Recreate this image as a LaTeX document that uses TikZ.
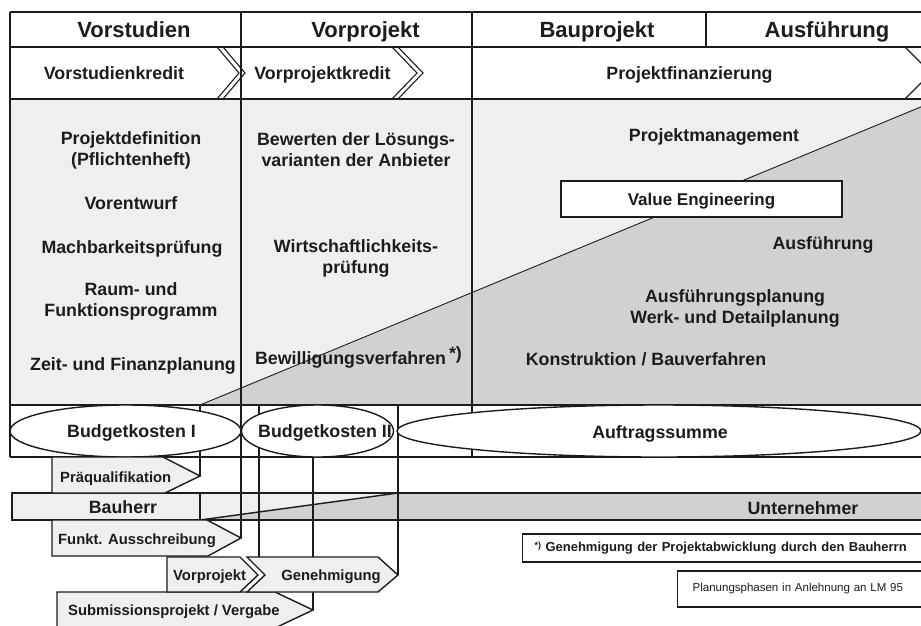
\documentclass[tikz,border=0pt]{standalone}
\usepackage{fontspec}
\setmainfont{Liberation Sans}
\usetikzlibrary{shapes.geometric,calc,positioning}
\definecolor{paleg}{HTML}{EFEFEF}
\definecolor{darkg}{HTML}{D1D1D3}
\definecolor{ink}{HTML}{1C1C1C}
\tikzset{
  frame/.style={draw=ink, line width=1.6pt},
  link/.style={draw=ink, line width=1.4pt},
  thinline/.style={draw=ink, line width=0.9pt},
  chev/.style={draw=ink, line width=1.1pt},
  tag/.style={draw=ink, line width=1.4pt, fill=paleg},
  oneline/.style={text height=#1, text depth=0pt},
  head/.style={oneline=15.8pt, inner sep=0pt, text=ink, font=\bfseries\fontsize{22}{26}\selectfont},
  txt/.style={inner sep=0pt, text=ink, align=center, font=\bfseries\fontsize{17.8}{21}\selectfont},
  line/.style={txt, oneline=12.8pt},
  small/.style={oneline=10.7pt, inner sep=0pt, text=ink, font=\bfseries\fontsize{14.8}{17}\selectfont},
  cost/.style={ellipse, draw=ink, line width=1.4pt, fill=white, minimum height=52pt, inner sep=0pt},
  note/.style={draw=ink, line width=1.4pt, fill=white, align=left, text=ink, anchor=west}
}

\begin{document}
\begin{tikzpicture}[x=1pt,y=-1pt]
\useasboundingbox (0,0) rectangle (921,625);
\clip (0,0) rectangle (921,625);

% planning area
\fill[paleg] (10,99) rectangle (930,405);
\fill[darkg] (200,405) -- (940,99) -- (940,405) -- cycle;
\draw[thinline] (200,405) -- (940,99);

% table frame
\foreach \y in {12,47,99,405,457}
  \draw[frame] (10,\y) -- (930,\y);
\draw[frame] (10,12) -- (10,457);
\draw[frame] (241,12) -- (241,457);
\draw[frame] (472,12) -- (472,457);
\draw[frame] (706,12) -- (706,47);

% credit chevrons
\foreach \cx/\tx in {217/239,223/245,392/417,398/423,905/931}
  \draw[chev] (\cx,47) -- (\tx,73) -- (\cx,99);

% Bauherr / Unternehmer bar
\fill[paleg] (12,493) rectangle (930,520);
\fill[darkg] (200,520) -- (398,493) -- (930,493) -- (930,520) -- cycle;
\draw[frame] (930,493) -- (12,493) -- (12,520) -- (930,520);
\draw[frame] (200,493) -- (200,520);
\draw[link] (200,520) -- (398,493);

\coordinate (rowtop) at (0,405);
\coordinate (rowbot) at (0,457);
\coordinate (pq tip) at (200,476);
\coordinate (fa tip) at (241,538);
\coordinate (gen top) at (259,557);
\coordinate (gen tip) at (398,575);
\coordinate (sub tip) at (313,610);

% connectors
\draw[link] (pq tip) -- (pq tip |- rowtop);
\draw[link] (fa tip) -- (fa tip |- rowbot);
\draw[link] (gen top) -- (gen top |- rowtop);
\draw[link] (gen tip) -- (gen tip |- rowtop);
\draw[link] (sub tip) -- (sub tip |- rowbot);

% cost ellipses
\node[cost, minimum width=231pt] (bk1) at (125.5,431) {};
\node[cost, minimum width=152pt] (bk2) at (317.5,431) {};
\node[cost, minimum width=524pt] (auft) at (659,431) {};

% procedure tags
\draw[tag] (52,457) -- (163,457) -- (pq tip) -- (165,493) -- (52,493) -- cycle;
\draw[tag] (52,520) -- (207,520) -- (fa tip) -- (208,556) -- (52,556) -- cycle;
\draw[tag] (57,592) -- (275,592) -- (sub tip) -- (275,628) -- (57,628) -- cycle;
\draw[tag] (167,557) -- (240,557) -- (258,575) -- (240,592) -- (167,592) -- cycle;
\draw[tag] (247,557) -- (378,557) -- (gen tip) -- (378,592) -- (247,592) -- (265,575) -- cycle;

% header
\node[head] (vst) at (134,30) {Vorstudien};
\node[head] (vpj) at (365.5,30) {Vorprojekt};
\node[head] (bpj) at (597,30) {Bauprojekt};
\node[head] (afg) at (827,30) {Ausführung};

\node[line] (vkr) at (114,73) {Vorstudienkredit};
\node[line] (pkr) at (322.5,73) {Vorprojektkredit};
\node[line] (fin) at (689.5,73) {Projektfinanzierung};

% column texts
\node[txt] (pdef) at (131,150) {Projektdefinition\\(Pflichtenheft)};
\node[line] (vent) at (131,203) {Vorentwurf};
\node[line] (mach) at (132,247) {Machbarkeitsprüfung};
\node[txt] (raum) at (131,301) {Raum- und\\Funktionsprogramm};
\node[line] (zeit) at (133,364) {Zeit- und Finanzplanung};

\node[txt] (bew) at (356,150) {Bewerten der Lösungs-\\varianten der Anbieter};
\node[txt] (wirt) at (356,258.5) {Wirtschaftlichkeits-\\prüfung};
\node[line] (bewil) at (358.5,358) {Bewilligungsverfahren\,\raisebox{5pt}{*)}};

\node[line] (pm) at (714,135) {Projektmanagement};
\node[draw=ink, line width=1.6pt, fill=white, minimum width=281pt, minimum height=36pt,
  oneline=12.2pt, text=ink, font=\bfseries\fontsize{17}{19}\selectfont] (veng) at (701.5,199) {Value Engineering};
\node[line] (ausf) at (823,243) {Ausführung};
\node[txt] (aplan) at (735,308.5) {Ausführungsplanung\\Werk- und Detailplanung};
\node[line] (konst) at (646,359) {Konstruktion / Bauverfahren};

% ellipse labels
\node[line] (bk1 txt) at (131.5,431) {Budgetkosten I};
\node[line] (bk2 txt) at (325,431) {Budgetkosten II};
\node[line] (auft txt) at (660,432) {Auftragssumme};

% bar and tag labels
\node[line] (bh) at (123,507) {Bauherr};
\node[line] (un) at (803,508) {Unternehmer};
\node[small, anchor=west] (pq) at (60,477) {Präqualifikation};
\node[small, anchor=west] (fa) at (58,539) {Funkt. Ausschreibung};
\node[small, anchor=west] (vp) at (173,575) {Vorprojekt};
\node[small] (gen) at (331,575) {Genehmigung};
\node[small, anchor=west] (sub) at (68,610) {Submissionsprojekt / Vergabe};

% notes
\node[note, font=\bfseries\fontsize{13}{15}\selectfont, text width=392pt, inner xsep=12pt,
  minimum height=28pt] (fn) at (522,548)
  {\raisebox{3pt}{\fontsize{9}{9}\selectfont *)} Genehmigung der Projektabwicklung durch den Bauherrn};
\node[note, font=\fontsize{11.5}{14}\selectfont, text width=230pt, inner xsep=15pt,
  minimum height=36pt] (lm) at (677,589) {Planungsphasen in Anlehnung an LM 95};
\end{tikzpicture}
\end{document}
